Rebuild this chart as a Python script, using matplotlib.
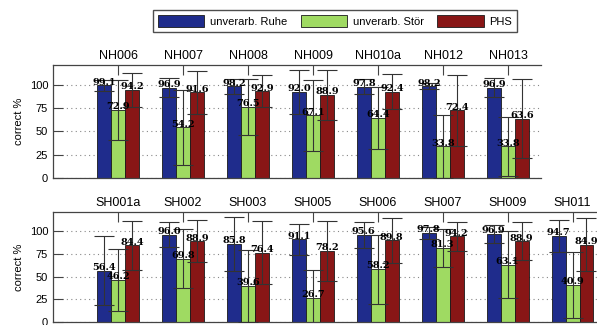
import numpy as np
import matplotlib
matplotlib.use("Agg")
import matplotlib.pyplot as plt
from matplotlib.patches import Patch

plt.rcParams['font.family'] = ['Liberation Sans', 'DejaVu Sans']

series_names = ["unverarb. Ruhe", "unverarb. Stör", "PHS"]
colors = ["#1f2c8c", "#9fda62", "#881616"]

# top panel (NH)
nh_groups = ["NH006", "NH007", "NH008", "NH009", "NH010a", "NH012", "NH013"]
nh_ruhe = [99.1, 96.9, 98.2, 92.0, 97.8, 98.2, 96.9]
nh_stoer = [72.9, 54.2, 76.5, 67.1, 64.4, 33.8, 33.8]
nh_phs = [94.2, 91.6, 92.9, 88.9, 92.4, 72.4, 63.6]
nh_ruhe_err = [6, 10, 8, 24, 8, 3, 10]
nh_stoer_err = [32, 40, 30, 38, 33, 34, 32]
nh_phs_err = [18, 23, 17, 27, 19, 38, 42]

# bottom panel (SH)
sh_groups = ["SH001a", "SH002", "SH003", "SH005", "SH006", "SH007", "SH009", "SH011"]
sh_ruhe = [56.4, 96.0, 85.8, 91.1, 95.6, 97.8, 96.9, 94.7]
sh_stoer = [46.2, 69.8, 39.6, 26.7, 58.2, 81.3, 63.1, 40.9]
sh_phs = [84.4, 88.9, 76.4, 78.2, 89.8, 94.2, 88.9, 84.9]
sh_ruhe_err = [38, 14, 30, 17, 14, 7, 10, 18]
sh_stoer_err = [34, 32, 40, 30, 38, 21, 37, 36]
sh_phs_err = [27, 23, 35, 33, 25, 16, 21, 29]


def draw_panel(ax, groups, values, errors, xmax):
    n = len(groups)
    x = np.arange(1, n + 1)
    w = 0.215
    for k, (vals, errs) in enumerate(zip(values, errors)):
        pos = x + (k - 1) * w
        ax.bar(pos, vals, w, color=colors[k], edgecolor="#1a1a1a", linewidth=0.6, zorder=2)
        ax.errorbar(pos, vals, yerr=errs, fmt="none", ecolor="#333333",
                    elinewidth=0.8, capsize=7, capthick=0.8, zorder=3)
        for p, v in zip(pos, vals):
            ax.text(p, v - 1.5, f"{v:.1f}", ha="center", va="bottom",
                    fontsize=7, fontweight="bold", family="DejaVu Serif", zorder=4)
    ax.set_xlim(0, xmax)
    ax.set_ylim(0, 121)
    ax.set_yticks([0, 25, 50, 75, 100])
    ax.yaxis.grid(True, linestyle=(0, (1, 3)), color="#888888", linewidth=0.8)
    ax.set_axisbelow(True)
    ax.set_xticks(x)
    ax.set_xticklabels(groups, fontsize=9)
    ax.tick_params(axis="x", top=True, bottom=False, labeltop=True, labelbottom=False,
                   direction="in", length=7, pad=2, color="#444444")
    ax.tick_params(axis="y", direction="in", length=7, labelsize=8, color="#444444")
    ax.spines["right"].set_visible(False)
    for s in ["left", "top", "bottom"]:
        ax.spines[s].set_color("#444444")
        ax.spines[s].set_linewidth(0.9)
    ax.set_ylabel("correct %", fontsize=8, labelpad=4)


fig = plt.figure(figsize=(5.97, 3.25), dpi=100)
ax1 = fig.add_axes([53 / 597, 1 - 178 / 325, 488 / 597, 113 / 325])
ax2 = fig.add_axes([53 / 597, 1 - 322 / 325, 552 / 597, 110 / 325])

draw_panel(ax1, nh_groups, [nh_ruhe, nh_stoer, nh_phs],
           [nh_ruhe_err, nh_stoer_err, nh_phs_err], 7.5)
draw_panel(ax2, sh_groups, [sh_ruhe, sh_stoer, sh_phs],
           [sh_ruhe_err, sh_stoer_err, sh_phs_err], 8.5)

handles = [Patch(facecolor=c, edgecolor="#1a1a1a", linewidth=0.6) for c in colors]
fig.legend(handles, series_names, loc="center", bbox_to_anchor=(335 / 597, 1 - 21 / 325),
           ncol=3, fontsize=8, frameon=True, fancybox=False, edgecolor="#222222",
           handlelength=4.2, handleheight=1.2, columnspacing=1.2, handletextpad=0.5,
           borderpad=0.45)

fig.savefig("out.png", dpi=100)
